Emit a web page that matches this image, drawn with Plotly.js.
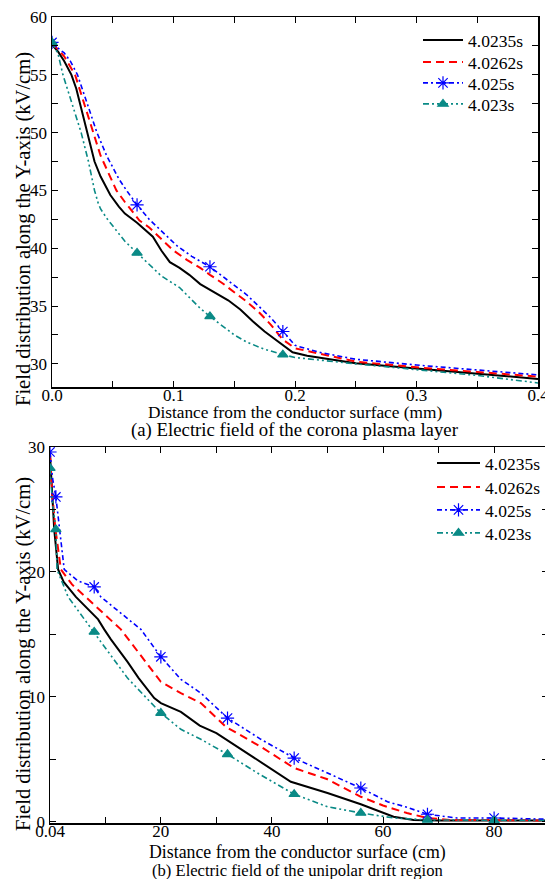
<!DOCTYPE html>
<html>
<head>
<meta charset="utf-8">
<script src="https://cdn.plot.ly/plotly-3.0.1.min.js"></script>
<style>
html,body{margin:0;padding:0;overflow:hidden;background:#fff;}
#chart{width:548px;height:879px;}
</style>
</head>
<body>
<div id="chart"></div>
<script>
// ---------- (a) corona plasma layer (x in mm, E in kV/cm) ----------
var seriesNames = ['4.0235s', '4.0262s', '4.025s', '4.023s'];

var aBlackX = [0, 0.005, 0.01, 0.016, 0.02, 0.029, 0.035, 0.04, 0.048, 0.055, 0.06, 0.07, 0.083, 0.09, 0.097, 0.105, 0.113, 0.122, 0.133, 0.145, 0.155, 0.165, 0.175, 0.188, 0.198, 0.21, 0.25, 0.3, 0.35, 0.4];
var aBlackY = [57.6, 57.0, 56.2, 55.0, 53.8, 50.0, 47.5, 46.2, 44.6, 43.6, 43.0, 42.2, 41.0, 39.8, 38.8, 38.3, 37.7, 36.9, 36.2, 35.5, 34.7, 33.7, 32.8, 31.8, 31.0, 30.7, 30.05, 29.6, 29.15, 28.7];

var aRedX = [0, 0.005, 0.01, 0.019, 0.025, 0.034, 0.04, 0.053, 0.06, 0.072, 0.08, 0.09, 0.1, 0.111, 0.122, 0.13, 0.14, 0.15, 0.16, 0.17, 0.18, 0.19, 0.2, 0.25, 0.3, 0.35, 0.4];
var aRedY = [57.7, 57.2, 56.6, 55.0, 53.0, 50.0, 48.0, 45.0, 44.0, 42.4, 41.8, 40.8, 39.8, 39.0, 38.3, 37.7, 37.0, 36.2, 35.4, 34.5, 33.4, 32.1, 31.35, 30.2, 29.7, 29.3, 28.9];

var aBlueX = [0, 0.005, 0.01, 0.015, 0.021, 0.028, 0.037, 0.045, 0.055, 0.062, 0.07, 0.08, 0.09, 0.103, 0.115, 0.122, 0.13, 0.14, 0.15, 0.16, 0.17, 0.18, 0.19, 0.195, 0.2, 0.22, 0.25, 0.3, 0.35, 0.4];
var aBlueY = [57.8, 57.3, 56.9, 56.2, 55.0, 52.8, 50.0, 48.0, 46.0, 44.9, 43.75, 42.5, 41.5, 40.2, 39.3, 38.9, 38.4, 37.6, 36.8, 36.0, 35.0, 34.0, 32.8, 32.2, 31.6, 31.0, 30.4, 29.9, 29.5, 29.05];

var aTealX = [0, 0.005, 0.009, 0.015, 0.024, 0.03, 0.035, 0.038, 0.04, 0.045, 0.05, 0.06, 0.07, 0.08, 0.09, 0.105, 0.122, 0.13, 0.14, 0.15, 0.16, 0.174, 0.19, 0.2, 0.25, 0.3, 0.35, 0.4];
var aTealY = [57.8, 56.8, 55.0, 53.0, 50.0, 47.5, 45.0, 43.9, 43.4, 42.6, 41.9, 40.6, 39.6, 38.6, 37.6, 36.6, 34.8, 34.1, 33.3, 32.5, 31.9, 31.3, 30.8, 30.55, 30.0, 29.5, 29.0, 28.35];

var aMarkX = [0, 0.07, 0.13, 0.19];   // x positions carrying symbols

var aXTicks = [0, 0.05, 0.1, 0.15, 0.2, 0.25, 0.3, 0.35, 0.4];
var aXLabels = ['0.0', '', '0.1', '', '0.2', '', '0.3', '', '0.4'];
var aYTicks = [30, 32.5, 35, 37.5, 40, 42.5, 45, 47.5, 50, 52.5, 55, 57.5, 60];
var aYLabels = ['30', '', '35', '', '40', '', '45', '', '50', '', '55', '', '60'];

// ---------- (b) unipolar drift region (x in cm, E in kV/cm) ----------
var bBlackX = [0.04, 0.2, 0.4, 0.8, 1.5, 2.5, 4.7, 8.7, 9.8, 11, 14, 16, 18.8, 20, 23.6, 27, 30, 35.6, 43.4, 50, 56, 61.9, 65.5, 70, 80, 90];
var bBlackY = [29.4, 28.0, 26.0, 23.4, 20.2, 19.2, 18.0, 16.2, 15.4, 14.6, 12.8, 11.5, 9.9, 9.5, 8.8, 7.7, 7.1, 5.5, 3.2, 2.3, 1.4, 0.4, 0.15, 0.1, 0.1, 0.1];

var bRedX = [0.04, 0.4, 1.0, 2.0, 4.0, 6.5, 12.8, 18.8, 20, 23.6, 27.2, 31.7, 38, 44, 50, 56, 60, 64.3, 68, 72, 80, 90];
var bRedY = [29.5, 26.5, 23.5, 20.2, 19.0, 18.0, 15.4, 11.9, 11.2, 10.3, 9.5, 7.6, 6.0, 4.3, 3.4, 2.0, 1.3, 0.7, 0.3, 0.15, 0.1, 0.1];

var bBlueX = [0.04, 0.5, 1.1, 2.6, 5, 8, 9.2, 16.4, 20, 23.6, 27.2, 32, 38, 44, 50, 56, 60.8, 64, 68, 73.3, 80, 90];
var bBlueY = [29.6, 27.5, 26.0, 20.2, 19.3, 18.8, 18.0, 15.4, 13.2, 11.4, 10.3, 8.3, 6.6, 5.1, 3.9, 2.7, 1.6, 1.2, 0.6, 0.3, 0.3, 0.2];

var bTealX = [0.04, 0.5, 1.1, 1.3, 3.3, 8, 9.2, 14, 20, 23.6, 27.2, 32, 37.4, 44, 50, 56, 62, 68, 80, 90];
var bTealY = [28.3, 25.5, 23.4, 20.2, 18.0, 15.2, 14.4, 11.5, 8.7, 7.4, 6.6, 5.4, 3.9, 2.2, 1.2, 0.7, 0.3, 0.15, 0.1, 0.1];

var bMarkX = [0.04, 1.1, 8, 20, 32, 44, 56, 68, 80];

var bXTicks = [0.04, 10, 20, 30, 40, 50, 60, 70, 80];
var bXLabels = ['0.04', '', '20', '', '40', '', '60', '', '80'];
var bYTicks = [0, 5, 10, 15, 20, 25, 30];
var bYLabels = ['0', '', '10', '', '20', '', '30'];

// ---------- styling ----------
var FONT = 'Liberation Serif, Times New Roman, serif';
var colBlack = '#000000', colRed = '#ff0000', colBlue = '#0000ff', colTeal = '#0a8a86';

function markColors(xs, marks, col) {
  return xs.map(function (x) { return marks.indexOf(x) >= 0 ? col : 'rgba(0,0,0,0)'; });
}
function plainLine(x, y, name, col, dash, xa, ya, lg) {
  return {x: x, y: y, name: name, type: 'scatter', mode: 'lines',
    line: {color: col, width: 2, dash: dash}, xaxis: xa, yaxis: ya, legend: lg};
}
function markedLine(x, y, name, col, dash, sym, size, marks, xa, ya, lg) {
  var mc = markColors(x, marks, col);
  return {x: x, y: y, name: name, type: 'scatter', mode: 'lines+markers',
    line: {color: col, width: 1.6, dash: dash},
    marker: {symbol: sym, size: size, color: mc, line: {color: mc, width: 1.2}},
    xaxis: xa, yaxis: ya, legend: lg};
}

var dashRed = '8px,5px';
var dashBlue = '5px,3px,2px,3px';
var dashTeal = '6px,3px,2px,3px,2px,3px';

var traces = [
  plainLine(aBlackX, aBlackY, seriesNames[0], colBlack, 'solid', 'x', 'y', 'legend'),
  plainLine(aRedX, aRedY, seriesNames[1], colRed, dashRed, 'x', 'y', 'legend2'),
  markedLine(aBlueX, aBlueY, seriesNames[2], colBlue, dashBlue, 'asterisk-open', 11, aMarkX, 'x', 'y', 'legend3'),
  markedLine(aTealX, aTealY, seriesNames[3], colTeal, dashTeal, 'triangle-up', 9, aMarkX, 'x', 'y', 'legend4'),
  plainLine(bBlackX, bBlackY, seriesNames[0], colBlack, 'solid', 'x2', 'y2', 'legend5'),
  plainLine(bRedX, bRedY, seriesNames[1], colRed, dashRed, 'x2', 'y2', 'legend6'),
  markedLine(bBlueX, bBlueY, seriesNames[2], colBlue, dashBlue, 'asterisk-open', 11, bMarkX, 'x2', 'y2', 'legend7'),
  markedLine(bTealX, bTealY, seriesNames[3], colTeal, dashTeal, 'triangle-up', 9, bMarkX, 'x2', 'y2', 'legend8')
];

var W = 548, H = 879;
function px(v) { return v / W; }
function py(v) { return (H - v) / H; }

function axisBase(extra) {
  var a = {showline: true, linecolor: '#000', linewidth: 1.5, mirror: 'ticks',
    ticks: 'inside', ticklen: 6, tickwidth: 1, tickcolor: '#000',
    showgrid: false, zeroline: false, tickmode: 'array', ticklabeloverflow: 'allow',
    tickfont: {family: FONT, size: 17, color: '#000'}, automargin: false};
  for (var k in extra) a[k] = extra[k];
  return a;
}
function legendAt(left, centerY, iw) {
  return {x: px(left), y: py(centerY - 18), xanchor: 'left', yanchor: 'top',
    bgcolor: 'rgba(0,0,0,0)', borderwidth: 0,
    font: {family: FONT, size: 17.5, color: '#000'}, itemwidth: iw};
}
function note(text, x, y, size, angle) {
  return {text: text, xref: 'paper', yref: 'paper', x: px(x), y: py(y),
    xanchor: 'center', yanchor: 'middle', showarrow: false, textangle: angle || 0,
    font: {family: FONT, size: size, color: '#000'}};
}

var layout = {
  width: W, height: H,
  margin: {l: 0, r: 0, t: 0, b: 0},
  paper_bgcolor: '#fff', plot_bgcolor: '#fff',
  font: {family: FONT, color: '#000'},
  xaxis: axisBase({domain: [px(52), px(538)], range: [0, 0.4], anchor: 'y',
    tickvals: aXTicks, ticktext: aXLabels, ticklabelstandoff: -8}),
  yaxis: axisBase({domain: [py(387), py(17)], range: [28, 60], anchor: 'x',
    tickvals: aYTicks, ticktext: aYLabels}),
  xaxis2: axisBase({domain: [px(50), 1], range: [0.04, 89.7], anchor: 'y2',
    tickvals: bXTicks, ticktext: bXLabels, ticklabelstandoff: -8}),
  yaxis2: axisBase({domain: [py(823), py(447)], range: [-0.1, 30], anchor: 'x2',
    tickvals: bYTicks, ticktext: bYLabels}),
  legend: legendAt(418, 40, 40),
  legend2: legendAt(418, 62, 40),
  legend3: legendAt(418, 83, 40),
  legend4: legendAt(418, 104, 40),
  legend5: legendAt(432, 463, 43),
  legend6: legendAt(432, 487, 43),
  legend7: legendAt(432, 510, 43),
  legend8: legendAt(432, 533, 43),
  annotations: [
    note('Distance from the conductor surface (mm)', 295, 412, 17.3),
    note('(a) Electric field of the corona plasma layer', 295, 430, 18.8),
    note('Field distribution along the Y-axis (kV/cm)', 23, 229, 20.5, -90),
    note('Distance from the conductor surface (cm)', 297, 852, 17.8),
    note('(b) Electric field of the unipolar drift region', 297, 870, 16.6),
    note('Field distribution along the Y-axis (kV/cm)', 23, 654, 20.5, -90)
  ],
  showlegend: true
};

Plotly.newPlot('chart', traces, layout, {displayModeBar: false, staticPlot: true});
</script>
</body>
</html>
